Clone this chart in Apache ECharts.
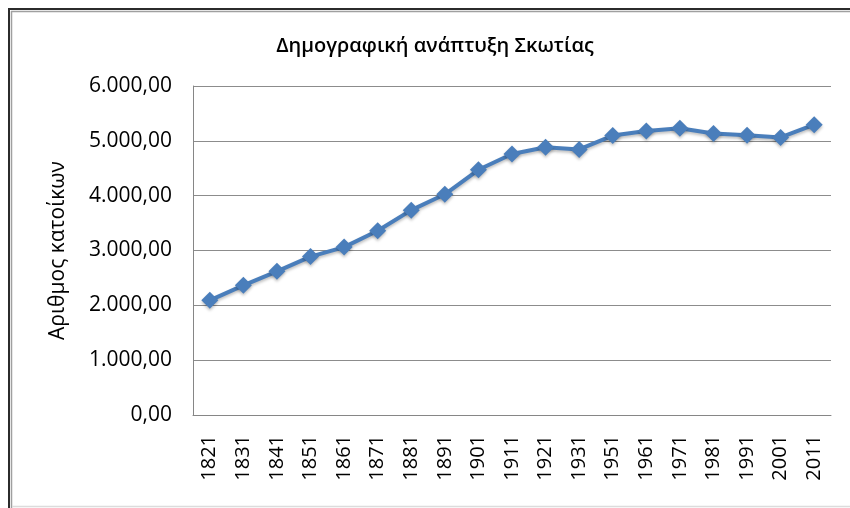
<!DOCTYPE html>
<html>
<head>
<meta charset="utf-8">
<script src="https://cdn.jsdelivr.net/npm/echarts@6/dist/echarts.min.js"></script>
<style>
  html, body { margin: 0; padding: 0; background: #ffffff; }
  #chart { width: 850px; height: 508px; }
</style>
</head>
<body>
<div id="chart"></div>
<script>
// Census years (1941 had no census)
const years = ['1821', '1831', '1841', '1851', '1861', '1871', '1881', '1891', '1901', '1911',
               '1921', '1931', '1951', '1961', '1971', '1981', '1991', '2001', '2011'];
// Population of Scotland, thousands
const population = [2091.5, 2364.4, 2620.2, 2888.7, 3062.3, 3360.0, 3735.6, 4025.6, 4472.1, 4760.9,
                    4882.5, 4843.0, 5096.4, 5179.3, 5229.0, 5135.0, 5100.0, 5062.0, 5295.4];
const yTicks = [0, 1000, 2000, 3000, 4000, 5000, 6000];

const titleText = 'Δημογραφική ανάπτυξη Σκωτίας';
const yAxisName = 'Αριθμος κατοίκων';

// 6000 -> "6.000,00"
function greekNumber(v) {
  const intPart = Math.round(v).toString().replace(/\B(?=(\d{3})+(?!\d))/g, '.');
  return intPart + ',00';
}

const FONT = '"Open Sans", "Noto Sans", sans-serif';
const chart = echarts.init(document.getElementById('chart'), null, { renderer: 'canvas' });

chart.setOption({
  backgroundColor: '#ffffff',
  animation: false,
  title: {
    text: titleText,
    left: 430,
    textAlign: 'center',
    top: 31,
    textStyle: { fontFamily: FONT, fontSize: 20, fontWeight: 600, color: '#000000' }
  },
  grid: { left: 193, top: 86, right: 19, bottom: 93, containLabel: false },
  xAxis: {
    type: 'category',
    data: years,
    boundaryGap: true,
    axisLine: { lineStyle: { color: '#868686', width: 1 } },
    axisTick: { show: false },
    axisLabel: {
      rotate: 90,
      margin: 20,
      fontFamily: FONT,
      fontSize: 20,
      color: '#000000',
      interval: 0
    },
    splitLine: { show: false }
  },
  yAxis: {
    type: 'value',
    min: yTicks[0],
    max: yTicks[yTicks.length - 1],
    interval: yTicks[1] - yTicks[0],
    name: yAxisName,
    nameLocation: 'middle',
    nameGap: 124,
    nameTextStyle: { fontFamily: FONT, fontSize: 21, color: '#000000' },
    axisLine: { show: true, lineStyle: { color: '#868686', width: 1 } },
    axisTick: { show: false },
    axisLabel: {
      margin: 21,
      fontFamily: FONT,
      fontSize: 21,
      color: '#000000',
      formatter: greekNumber
    },
    splitLine: { lineStyle: { color: '#8c8c8c', width: 1 } }
  },
  series: [{
    type: 'line',
    data: population,
    symbol: 'diamond',
    symbolSize: 17,
    lineStyle: { color: '#4a7ebb', width: 4, shadowColor: 'rgba(0,0,0,0.25)', shadowBlur: 3, shadowOffsetY: 2 },
    itemStyle: { color: '#4a7ebb', shadowColor: 'rgba(0,0,0,0.25)', shadowBlur: 3, shadowOffsetY: 2 },
    emphasis: { disabled: true }
  }],
  graphic: [
    // outer frame: dark edge with a grey inner edge
    { type: 'line', shape: { x1: 8, y1: 9, x2: 850, y2: 9 }, style: { stroke: '#2b2b2b', lineWidth: 2 } },
    { type: 'line', shape: { x1: 9, y1: 8, x2: 9, y2: 508 }, style: { stroke: '#2b2b2b', lineWidth: 2 } },
    { type: 'line', shape: { x1: 11, y1: 11.5, x2: 850, y2: 11.5 }, style: { stroke: '#a0a0a0', lineWidth: 1.5 } },
    { type: 'line', shape: { x1: 11.5, y1: 11, x2: 11.5, y2: 508 }, style: { stroke: '#a0a0a0', lineWidth: 1.5 } },
    { type: 'line', shape: { x1: 12, y1: 506.5, x2: 850, y2: 506.5 }, style: { stroke: '#dcdcdc', lineWidth: 1.5 } }
  ]
});
</script>
</body>
</html>
